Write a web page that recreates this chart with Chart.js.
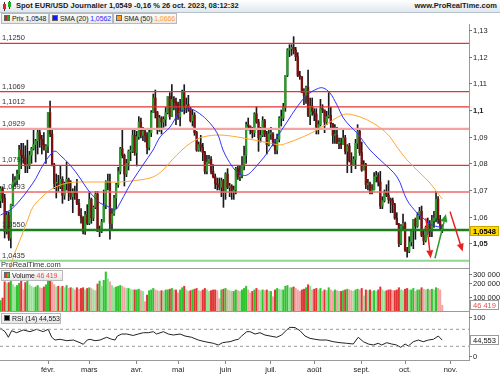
<!DOCTYPE html>
<html>
<head>
<meta charset="utf-8">
<script src="https://cdn.jsdelivr.net/npm/chart.js@4.4.0/dist/chart.umd.min.js"></script>
<style>
html, body { margin: 0; padding: 0; background: #fff; }
body { width: 500px; height: 375px; position: relative; overflow: hidden; font-family: "Liberation Sans", Arial, sans-serif; color: #1a1a1a; }
canvas { position: absolute; left: 0; }
#title { position: absolute; left: 0; top: 0; width: 500px; height: 12px; background: linear-gradient(#ffffff, #dfe7ee); border-bottom: 1px solid #b7c2cb; font-size: 7.5px; font-weight: bold; line-height: 12px; }
#title .txt { position: absolute; left: 16px; top: 0; }
#title .site { position: absolute; right: 3px; top: 0; }
.ico i { position: absolute; display: block; }
.lg { position: absolute; height: 9px; border: 1px solid #b9b9b9; background: linear-gradient(#fbfbfb, #e8e8e8); font-size: 7px; line-height: 9px; white-space: nowrap; overflow: hidden; }
.lg .sq { position: absolute; left: 2px; top: 1px; width: 6px; height: 6px; border: 1px solid #666; box-sizing: border-box; }
.lg .t { position: absolute; left: 10px; top: 0; letter-spacing: -0.1px; }
#prt { position: absolute; left: 1px; top: 261px; font-size: 7.5px; line-height: 8px; color: #333; }
</style>
</head>
<body>
<div id="title">
  <span class="ico"><i style="left:4px;top:2px;width:1px;height:9px;background:#333"></i><i style="left:3px;top:4px;width:3px;height:5px;background:#d22"></i><i style="left:9px;top:1px;width:1px;height:8px;background:#333"></i><i style="left:8px;top:2px;width:3px;height:5px;background:#2a2"></i></span>
  <span class="txt">Spot EUR/USD Journalier 1,0549 -0,16 % 26 oct. 2023, 08:12:32</span>
  <span class="site">www.ProRealTime.com</span>
</div>
<div class="lg" style="left:1px;top:13px;width:46px"><span class="sq" style="background:linear-gradient(90deg,#c22 50%,#2a2 50%)"></span><span class="t">Prix 1,0548</span></div>
<div class="lg" style="left:49px;top:13px;width:62px"><span class="sq" style="background:#1616ff"></span><span class="t">SMA (20) <span style="color:#2a2aff">1,0562</span></span></div>
<div class="lg" style="left:113px;top:13px;width:62px"><span class="sq" style="background:#ffa020"></span><span class="t">SMA (50) <span style="color:#ff9a2a">1,0666</span></span></div>

<canvas id="main" width="500" height="245" style="top:24px"></canvas>
<canvas id="vol" width="500" height="43" style="top:269px"></canvas>
<canvas id="rsi" width="500" height="63" style="top:312px"></canvas>

<div id="prt">ProRealTime.com</div>
<div class="lg" style="left:1px;top:270px;width:60px"><span class="sq" style="background:linear-gradient(90deg,#e33 50%,#3c3 50%)"></span><span class="t">Volume <span style="color:#e05050">46 419</span></span></div>
<div class="lg" style="left:1px;top:313px;width:58px"><span class="sq" style="background:#000"></span><span class="t">RSI (14) 44,553</span></div>

<script>
// ---- data (daily sessions, 30 déc. 2022 = index 0) ----
const monthLabels = ['févr.', 'mars', 'avr.', 'mai', 'juin', 'juil.', 'août', 'sept.', 'oct.', 'nov.'];
const monthStarts = [23, 43, 66, 86, 109, 131, 152, 175, 196, 218];

const opens = [1.0660,
  1.0705,1.0670,1.0545,1.0606,1.0520,1.0645,1.0730,1.0737,1.0760,1.0850,1.0830,1.0820,1.0790,1.0795,1.0830,1.0855,1.0870,1.0885,1.0915,1.0890,1.0870,1.0850,
  1.0865,1.0990,1.0910,1.0795,1.0725,1.0725,1.0712,1.0740,1.0680,1.0725,1.0740,1.0690,1.0675,1.0695,1.0685,1.0650,1.0605,1.0595,1.0545,1.0607,
  1.0575,1.0665,1.0595,1.0635,1.0685,1.0545,1.0545,1.0580,1.0640,1.0730,1.0730,1.0575,1.0610,1.0670,1.0720,1.0770,1.0855,1.0830,1.0760,1.0800,1.0845,1.0845,1.0905,
  1.0840,1.0900,1.0955,1.0905,1.0920,1.0905,1.0860,1.0915,1.0990,1.1045,1.0990,1.0925,1.0970,1.0955,1.0965,1.0990,1.1050,1.0975,1.1040,1.1030,
  1.1020,1.0975,1.0995,1.1065,1.1010,1.1020,1.1005,1.0960,1.0980,1.0915,1.0850,1.0870,1.0860,1.0840,1.0770,1.0805,1.0815,1.0770,1.0750,1.0725,1.0720,1.0710,1.0735,
  1.0690,1.0760,1.0710,1.0715,1.0695,1.0700,1.0780,1.0750,1.0755,1.0790,1.0830,1.0945,1.0940,1.0925,1.0915,1.0985,1.0955,1.0895,1.0905,1.0960,1.0910,1.0870,
  1.0910,1.0910,1.0880,1.0850,1.0890,1.0970,1.0970,1.1010,1.1130,1.1225,1.1230,1.1235,1.1225,1.1200,1.1130,1.1125,1.1065,1.1055,1.1085,1.0980,1.1015,
  1.0995,1.0985,1.0935,1.0945,1.1005,1.1000,1.0955,1.0975,1.0980,1.0950,1.0905,1.0905,1.0875,1.0875,1.0870,1.0895,1.0845,1.0865,1.0810,1.0795,1.0815,1.0875,1.0920,
  1.0840,1.0775,1.0795,1.0720,1.0725,1.0695,1.0700,1.0750,1.0755,1.0730,1.0640,1.0660,1.0690,1.0680,1.0665,1.0660,1.0645,1.0595,1.0570,1.0500,1.0565,
  1.0575,1.0475,1.0470,1.0505,1.0550,1.0590,1.0565,1.0605,1.0620,1.0530,1.0510,1.0560,1.0575,1.0545,1.0585,1.0595,1.0665,1.0590,1.0565];
const highs = [1.0713,
  1.0712,1.0684,1.0620,1.0618,1.0647,1.0760,1.0750,1.0775,1.0868,1.0875,1.0875,1.0866,1.0887,1.0845,1.0860,1.0927,1.0890,1.0930,1.0930,1.0905,1.0915,1.0870,
  1.0990,1.1033,1.0925,1.0800,1.0760,1.0755,1.0790,1.0750,1.0730,1.0805,1.0745,1.0735,1.0705,1.0715,1.0740,1.0665,1.0630,1.0600,1.0620,1.0645,
  1.0690,1.0670,1.0640,1.0695,1.0695,1.0565,1.0590,1.0700,1.0735,1.0760,1.0760,1.0630,1.0680,1.0725,1.0785,1.0860,1.0930,1.0835,1.0815,1.0850,1.0865,1.0925,1.0925,
  1.0920,1.0975,1.0970,1.0935,1.0925,1.0915,1.0930,1.0998,1.1060,1.1075,1.0995,1.0980,1.0975,1.0975,1.1010,1.1050,1.1065,1.1095,1.1050,1.1045,
  1.1030,1.1040,1.1075,1.1095,1.1045,1.1055,1.1010,1.1000,1.0990,1.0920,1.0880,1.0905,1.0875,1.0845,1.0830,1.0830,1.0825,1.0795,1.0760,1.0745,1.0745,1.0745,1.0740,
  1.0765,1.0780,1.0725,1.0720,1.0715,1.0785,1.0790,1.0790,1.0825,1.0865,1.0955,1.0970,1.0940,1.0935,1.0990,1.1012,1.0965,1.0935,1.0975,1.0965,1.0920,1.0930,
  1.0935,1.0915,1.0890,1.0910,1.0975,1.1000,1.1025,1.1130,1.1230,1.1245,1.1245,1.1275,1.1235,1.1215,1.1145,1.1125,1.1080,1.1090,1.1150,1.1045,1.1045,
  1.1005,1.1005,1.0960,1.1040,1.1020,1.1000,1.0995,1.1065,1.1010,1.0950,1.0945,1.0935,1.0895,1.0895,1.0925,1.0905,1.0870,1.0875,1.0840,1.0825,1.0890,1.0945,1.0925,
  1.0880,1.0810,1.0800,1.0740,1.0730,1.0720,1.0765,1.0770,1.0765,1.0770,1.0675,1.0700,1.0720,1.0735,1.0670,1.0670,1.0650,1.0615,1.0575,1.0570,1.0610,
  1.0580,1.0485,1.0525,1.0550,1.0590,1.0595,1.0615,1.0635,1.0640,1.0545,1.0565,1.0595,1.0585,1.0605,1.0620,1.0695,1.0675,1.0605,1.0570];
const lows = [1.0634,
  1.0653,1.0520,1.0535,1.0511,1.0483,1.0640,1.0713,1.0720,1.0740,1.0780,1.0800,1.0765,1.0765,1.0780,1.0800,1.0850,1.0805,1.0835,1.0860,1.0835,1.0850,1.0800,
  1.0840,1.0900,1.0790,1.0705,1.0670,1.0695,1.0705,1.0650,1.0665,1.0700,1.0660,1.0665,1.0615,1.0665,1.0645,1.0605,1.0576,1.0535,1.0533,1.0570,
  1.0570,1.0575,1.0585,1.0630,1.0545,1.0525,1.0540,1.0580,1.0630,1.0700,1.0516,1.0550,1.0605,1.0630,1.0710,1.0760,1.0820,1.0715,1.0750,1.0775,1.0810,1.0840,1.0830,
  1.0790,1.0890,1.0895,1.0885,1.0880,1.0835,1.0850,1.0900,1.0990,1.0970,1.0910,1.0920,1.0910,1.0935,1.0940,1.0985,1.0965,1.0975,1.1000,1.0945,
  1.0965,1.0940,1.0995,1.0985,1.0990,1.0995,1.0955,1.0940,1.0905,1.0845,1.0845,1.0845,1.0810,1.0760,1.0760,1.0800,1.0760,1.0745,1.0705,1.0700,1.0700,1.0675,1.0635,
  1.0665,1.0705,1.0675,1.0665,1.0665,1.0685,1.0740,1.0735,1.0745,1.0775,1.0800,1.0925,1.0910,1.0895,1.0900,1.0950,1.0845,1.0880,1.0900,1.0900,1.0835,1.0865,
  1.0890,1.0865,1.0835,1.0835,1.0880,1.0940,1.0960,1.0995,1.1125,1.1200,1.1205,1.1210,1.1185,1.1125,1.1115,1.1065,1.1020,1.1025,1.0975,1.0945,1.0980,
  1.0960,1.0910,1.0910,1.0940,1.0990,1.0915,1.0945,1.0970,1.0930,1.0875,1.0875,1.0875,1.0855,1.0855,1.0870,1.0835,1.0765,1.0805,1.0765,1.0795,1.0780,1.0855,1.0830,
  1.0770,1.0775,1.0705,1.0700,1.0685,1.0685,1.0700,1.0730,1.0715,1.0630,1.0630,1.0655,1.0675,1.0650,1.0615,1.0615,1.0590,1.0570,1.0488,1.0495,1.0555,
  1.0470,1.0448,1.0465,1.0490,1.0480,1.0515,1.0560,1.0590,1.0525,1.0495,1.0505,1.0535,1.0525,1.0525,1.0560,1.0580,1.0575,1.0550,1.0540];
const closes = [1.0705,
  1.0670,1.0545,1.0606,1.0520,1.0645,1.0730,1.0737,1.0760,1.0850,1.0830,1.0820,1.0790,1.0795,1.0830,1.0855,1.0870,1.0885,1.0915,1.0890,1.0870,1.0850,1.0865,
  1.0990,1.0910,1.0795,1.0725,1.0725,1.0712,1.0740,1.0680,1.0725,1.0740,1.0690,1.0675,1.0695,1.0685,1.0650,1.0605,1.0595,1.0545,1.0607,1.0575,
  1.0665,1.0595,1.0635,1.0685,1.0545,1.0545,1.0580,1.0640,1.0730,1.0730,1.0575,1.0610,1.0670,1.0720,1.0770,1.0855,1.0830,1.0760,1.0800,1.0845,1.0845,1.0905,1.0840,
  1.0900,1.0955,1.0905,1.0920,1.0905,1.0860,1.0915,1.0990,1.1045,1.0990,1.0925,1.0970,1.0955,1.0965,1.0990,1.1050,1.0975,1.1040,1.1030,1.1020,
  1.0975,1.0995,1.1065,1.1010,1.1020,1.1005,1.0960,1.0980,1.0915,1.0850,1.0870,1.0860,1.0840,1.0770,1.0805,1.0815,1.0770,1.0750,1.0725,1.0720,1.0710,1.0735,1.0690,
  1.0760,1.0710,1.0715,1.0695,1.0700,1.0780,1.0750,1.0755,1.0790,1.0830,1.0945,1.0940,1.0925,1.0915,1.0985,1.0955,1.0895,1.0905,1.0960,1.0910,1.0870,1.0910,
  1.0910,1.0880,1.0850,1.0890,1.0970,1.0970,1.1010,1.1130,1.1225,1.1230,1.1235,1.1225,1.1200,1.1130,1.1125,1.1065,1.1055,1.1085,1.0980,1.1015,1.0995,
  1.0985,1.0935,1.0945,1.1005,1.1000,1.0955,1.0975,1.0980,1.0950,1.0905,1.0905,1.0875,1.0875,1.0870,1.0895,1.0845,1.0865,1.0810,1.0795,1.0815,1.0875,1.0920,1.0840,
  1.0775,1.0795,1.0720,1.0725,1.0695,1.0700,1.0750,1.0755,1.0730,1.0640,1.0660,1.0690,1.0680,1.0665,1.0660,1.0645,1.0595,1.0570,1.0500,1.0565,1.0575,
  1.0475,1.0470,1.0505,1.0550,1.0590,1.0565,1.0605,1.0620,1.0530,1.0510,1.0560,1.0575,1.0545,1.0585,1.0595,1.0665,1.0590,1.0565,1.0549];

// volume in thousands
const volumesK = [78,
  95,205,195,200,215,185,170,180,195,210,150,200,215,185,175,165,170,180,165,160,170,185,
  215,235,205,185,170,175,165,175,165,180,160,165,160,150,165,155,160,165,150,160,
  165,160,150,145,190,210,175,215,272,225,205,180,165,170,175,180,175,165,160,160,155,150,150,
  150,155,145,140,70,115,145,150,160,150,145,140,145,140,150,150,155,160,150,150,
  130,150,165,175,150,140,145,150,155,160,145,140,150,160,150,140,145,150,150,145,90,150,155,
  160,150,145,140,140,150,145,140,150,160,175,150,130,140,150,160,150,145,150,145,150,140,
  140,104,150,160,155,150,150,175,180,165,165,170,160,150,140,150,155,165,185,175,150,
  155,160,150,160,140,150,145,165,150,140,150,145,140,140,145,150,155,150,145,140,150,155,150,
  160,110,150,145,150,140,145,140,150,170,150,140,145,150,150,145,145,150,165,150,145,
  155,160,150,150,160,140,150,150,165,155,150,155,150,155,150,165,160,150,46.419];

// moving averages (session index, value)
const sma20At = [0,6,15.7,20.6,24,26.4,28.8,33.7,38.5,42.4,45.8,48.2,51.6,55.5,57.9,61.3,64.2,69,73.9,77.3,82.1,87,91.8,95.2,100,104.9,107.8,110.2,113.6,117,119.4,122.3,125.7,129.6,134,138.8,143.6,148.5,153.3,156.2,159.6,163,166.1,169.3,172.7,179,183.9,192.1,196.9,201.8,204.7,209,212.9,214];
const sma20 = [1.0606,1.0633,1.0726,1.0794,1.0831,1.0846,1.0831,1.0794,1.0745,1.0700,1.0670,1.0651,1.0640,1.0625,1.0651,1.0700,1.0738,1.0794,1.0850,1.0899,1.0936,1.0993,1.1004,1.0993,1.0963,1.0914,1.0850,1.0813,1.0775,1.0756,1.0756,1.0775,1.0805,1.0843,1.0899,1.0955,1.1011,1.1056,1.1079,1.1083,1.1064,1.1019,1.0970,1.0940,1.0914,1.0850,1.0813,1.0749,1.0663,1.0614,1.0595,1.0569,1.0561,1.0562];
const sma50At = [4.6,6.5,9.4,12.8,15.7,20.1,24,27.8,32.2,37,41.9,51.6,57.9,67.6,73.9,78.7,83.1,87.9,92.8,98.1,106.3,114.6,122.3,130.6,135.4,138.8,146.5,153.3,159.6,164.5,167.9,174.2,180.5,185.3,188.7,192.1,196.9,203.2,208.1,214];
const sma50 = [1.0408,1.0456,1.0512,1.0580,1.0636,1.0674,1.0700,1.0715,1.0726,1.0730,1.0730,1.0730,1.0730,1.0738,1.0749,1.0775,1.0813,1.0850,1.0880,1.0899,1.0906,1.0899,1.0888,1.0876,1.0869,1.0876,1.0899,1.0925,1.0955,1.0978,1.0985,1.0974,1.0951,1.0925,1.0899,1.0861,1.0813,1.0764,1.0726,1.0666];

// RSI(14)
const rsiAt = [0,2.2,3.8,5.4,7.8,11,14.3,17.5,20.7,23.1,24.8,26.4,28.8,32.1,35.3,38.5,40.1,42,43.3,45.8,48.2,51.4,53.9,55.5,56.6,58.7,61.1,64.3,66.7,69.2,71.6,74,75.6,78.9,81.3,83.7,87,89.4,92.6,95.8,99.1,103.1,105.5,107.6,109.6,111.2,113.6,115.2,116.8,119.3,120.9,123.3,125.7,128.1,130.6,133.8,136.2,138.6,140.2,142.7,145.1,147.5,149.9,152.4,154.8,158,161.2,164.5,167.7,170.9,173.3,175.8,178.2,180.6,183,184.7,187.1,189.5,191.9,193.9,196,197.6,200,202.4,204.8,207.3,209.7,212.1,214];
const rsiValues = [72.4,64.4,51.2,66.7,62,68.4,64.4,70,64.4,70,51.2,44.8,46.5,43.2,44.8,38.5,34.7,44.8,46.5,43.2,44.8,51.2,46.5,44.8,54.2,58.9,58.9,55.5,58.9,62,62,64.4,58.9,64.4,58.9,56.6,58.9,54.2,51.2,44.8,40.8,37.1,33.1,38.5,40,40.8,44.8,46.5,54.2,64.4,64.4,58.9,62,56.6,54.2,51.2,56.6,68.4,74.7,74,66.7,54.2,48.8,46.5,44.8,44.8,40.8,38.5,37.1,35.4,51.2,40.8,35.4,33.1,37.1,33.1,38.5,35.4,33.1,27.6,35.4,30.7,40.8,44.8,40.8,44.8,46.5,54.2,44.553];
const rsiBands = [70, 30];

// drawn support / resistance levels and trend arrows
const levels = [1.1250, 1.1069, 1.1012, 1.0929, 1.0792, 1.0693, 1.0550, 1.0435];
const arrowFrom = [[217.8, 1.0619], [206.1, 1.0594], [210.5, 1.0444]];
const arrowTo = [[223.9, 1.0469], [208.4, 1.0444], [215.8, 1.0610]];

const priceTicks = [1.05, 1.06, 1.07, 1.08, 1.09, 1.10, 1.11, 1.12, 1.13];
const volumeTicks = [100000, 200000, 300000];
const rsiTicks = [0, 100];
const lastQuote = 1.0548;

// ---- styles ----
const FONT = '"Liberation Sans", Arial, sans-serif';
Chart.defaults.font.family = FONT;
const levelStyle = [
  ['#e63232', 1.2], ['#e63232', 1.2], ['#e63232', 1.2], ['#f4a3a3', 2.2],
  ['#e63232', 1.2], ['#f06868', 1.5], ['#1b7d1b', 2.6], ['#93d493', 2]
];
const arrowColors = ['#e52222', '#e52222', '#2a9a2a'];
const X_MIN = -0.26, X_MAX = 226.97;
const idx = closes.map((_, i) => i);

const fmtComma = (v, d) => v.toFixed(d).replace('.', ',');
const fmtThousands = v => String(Math.round(v)).replace(/\B(?=(\d{3})+(?!\d))/g, ' ');

function sideAxis(items, bottomLine) {
  return {
    id: 'sideAxis',
    afterDraw(chart) {
      const { ctx, chartArea: a } = chart;
      const ys = chart.scales.y;
      ctx.save();
      ctx.lineWidth = 1;
      ctx.strokeStyle = '#9a9a9a';
      ctx.beginPath();
      ctx.moveTo(a.right + 0.5, 0);
      ctx.lineTo(a.right + 0.5, a.bottom);
      if (bottomLine) {
        ctx.moveTo(0, a.bottom - 0.5);
        ctx.lineTo(a.right, a.bottom - 0.5);
      }
      ctx.stroke();
      ctx.textBaseline = 'middle';
      items.forEach(t => {
        const raw = ys.getPixelForValue(t.value);
        const y = Math.round(Math.min(Math.max(raw, a.top + 5), a.bottom - 4));
        if (t.box) {
          ctx.fillStyle = t.box[0];
          ctx.strokeStyle = t.box[1];
          ctx.fillRect(a.right + 1, y - 5, 29, 10);
          ctx.strokeRect(a.right + 1.5, y - 4.5, 28, 9);
        } else {
          ctx.strokeStyle = '#777';
          ctx.beginPath();
          ctx.moveTo(a.right, y + 0.5);
          ctx.lineTo(a.right + 3, y + 0.5);
          ctx.stroke();
        }
        ctx.font = (t.bold ? 'bold ' : '') + '7.5px ' + FONT;
        ctx.fillStyle = t.color || '#222';
        ctx.fillText(t.text, a.right + 4, y + 0.5);
      });
      ctx.restore();
    }
  };
}

const levelLabels = {
  id: 'levelLabels',
  afterDatasetsDraw(chart) {
    const { ctx } = chart;
    const ys = chart.scales.y;
    ctx.save();
    ctx.font = '7.5px ' + FONT;
    ctx.fillStyle = '#333';
    levels.forEach(v => ctx.fillText(fmtComma(v, 4), 2, ys.getPixelForValue(v) - 3));
    ctx.restore();
  }
};

const arrowsPlugin = {
  id: 'arrows',
  afterDatasetsDraw(chart) {
    const { ctx, scales: { x, y } } = chart;
    ctx.save();
    arrowFrom.forEach((p, k) => {
      const x0 = x.getPixelForValue(p[0]), y0 = y.getPixelForValue(p[1]);
      const x1 = x.getPixelForValue(arrowTo[k][0]), y1 = y.getPixelForValue(arrowTo[k][1]);
      const ang = Math.atan2(y1 - y0, x1 - x0);
      const len = 8, half = 3.5;
      const bx = x1 - len * Math.cos(ang), by = y1 - len * Math.sin(ang);
      ctx.strokeStyle = ctx.fillStyle = arrowColors[k];
      ctx.lineWidth = 1.5;
      ctx.beginPath();
      ctx.moveTo(x0, y0);
      ctx.lineTo(bx, by);
      ctx.stroke();
      ctx.beginPath();
      ctx.moveTo(x1, y1);
      ctx.lineTo(bx + half * Math.sin(ang), by - half * Math.cos(ang));
      ctx.lineTo(bx - half * Math.sin(ang), by + half * Math.cos(ang));
      ctx.closePath();
      ctx.fill();
    });
    ctx.restore();
  }
};

const baseOptions = (yMin, yMax) => ({
  responsive: false,
  animation: false,
  events: [],
  layout: { padding: { left: 0, right: 31, top: 0, bottom: 0 } },
  plugins: { legend: { display: false }, tooltip: { enabled: false } },
  scales: {
    x: { type: 'linear', min: X_MIN, max: X_MAX, offset: false, display: false },
    y: { min: yMin, max: yMax, display: false }
  }
});

// ---- price panel ----
const priceItems = priceTicks.map(v => ({
  value: v,
  text: String(Number(v.toFixed(2))).replace('.', ','),
  bold: v === 1.10 || v === 1.05
}));
priceItems.push({ value: lastQuote, text: fmtComma(lastQuote, 4), bold: true, box: ['#ffd800', '#c9a900'], color: '#000' });

new Chart(document.getElementById('main'), {
  type: 'bar',
  data: {
    datasets: [
      {
        type: 'bar', order: 6, grouped: false, barThickness: 1,
        data: idx.map(i => ({ x: i, y: [lows[i], highs[i]] })),
        backgroundColor: '#1a1a1a'
      },
      {
        type: 'bar', order: 5, grouped: false, barThickness: 1.7, minBarLength: 1,
        data: idx.map(i => ({ x: i, y: [opens[i], closes[i]] })),
        backgroundColor: idx.map(i => closes[i] >= opens[i] ? '#2c9a2c' : '#7c1010')
      },
      ...levels.map((v, k) => ({
        type: 'line', order: 4,
        data: [{ x: X_MIN, y: v }, { x: X_MAX, y: v }],
        borderColor: levelStyle[k][0], borderWidth: levelStyle[k][1], pointRadius: 0
      })),
      {
        type: 'line', order: 3,
        data: sma50At.map((x, k) => ({ x, y: sma50[k] })),
        borderColor: '#ffa733', borderWidth: 1, pointRadius: 0, tension: 0.35
      },
      {
        type: 'line', order: 2,
        data: sma20At.map((x, k) => ({ x, y: sma20[k] })),
        borderColor: '#3434ff', borderWidth: 1, pointRadius: 0, tension: 0.35
      }
    ]
  },
  options: baseOptions(1.04038, 1.13225),
  plugins: [levelLabels, arrowsPlugin, sideAxis(priceItems, true)]
});

// ---- volume panel ----
const volItems = volumeTicks.map(v => ({ value: v, text: fmtThousands(v) }));
const lastVol = volumesK[volumesK.length - 1] * 1000;
volItems.push({ value: lastVol, text: fmtThousands(lastVol), box: ['#ffffff', '#9a9a9a'], color: '#e05050' });

new Chart(document.getElementById('vol'), {
  type: 'bar',
  data: {
    datasets: [{
      grouped: false, barThickness: 1.4,
      data: idx.map(i => ({ x: i, y: volumesK[i] * 1000 })),
      backgroundColor: idx.map(i => {
        const up = closes[i] >= opens[i];
        const soft = i > 0 && volumesK[i] < volumesK[i - 1];
        return up ? (soft ? '#97e297' : '#2fc42f') : (soft ? '#f2a3a3' : '#e23535');
      })
    }]
  },
  options: baseOptions(0, 292000),
  plugins: [sideAxis(volItems, true)]
});

// ---- RSI panel ----
const rsiItems = rsiTicks.map(v => ({ value: v, text: String(v) }));
const lastRsi = rsiValues[rsiValues.length - 1];
rsiItems.push({ value: lastRsi, text: fmtComma(lastRsi, 3), box: ['#ffffff', '#9a9a9a'], color: '#111' });

const rsiOptions = baseOptions(-2.2, 110.7);
rsiOptions.scales.x = {
  type: 'linear', min: X_MIN, max: X_MAX, offset: false, display: true,
  afterBuildTicks: s => { s.ticks = monthStarts.map(v => ({ value: v })); },
  afterFit: s => { s.height = 15; },
  ticks: {
    callback: (v, i) => monthLabels[i],
    autoSkip: false, maxRotation: 0, minRotation: 0, padding: 1,
    color: '#222', font: { size: 7.5 }
  },
  grid: { drawOnChartArea: false, drawTicks: true, tickLength: 4, color: '#888' },
  border: { display: true, color: '#9a9a9a' }
};

new Chart(document.getElementById('rsi'), {
  type: 'line',
  data: {
    datasets: [
      ...rsiBands.map(v => ({
        data: [{ x: X_MIN, y: v }, { x: X_MAX, y: v }],
        borderColor: '#9a9a9a', borderWidth: 1, borderDash: [3, 3], pointRadius: 0
      })),
      {
        data: rsiAt.map((x, k) => ({ x, y: rsiValues[k] })),
        borderColor: '#222', borderWidth: 1, pointRadius: 0, tension: 0
      }
    ]
  },
  options: rsiOptions,
  plugins: [sideAxis(rsiItems, false)]
});
</script>
</body>
</html>
